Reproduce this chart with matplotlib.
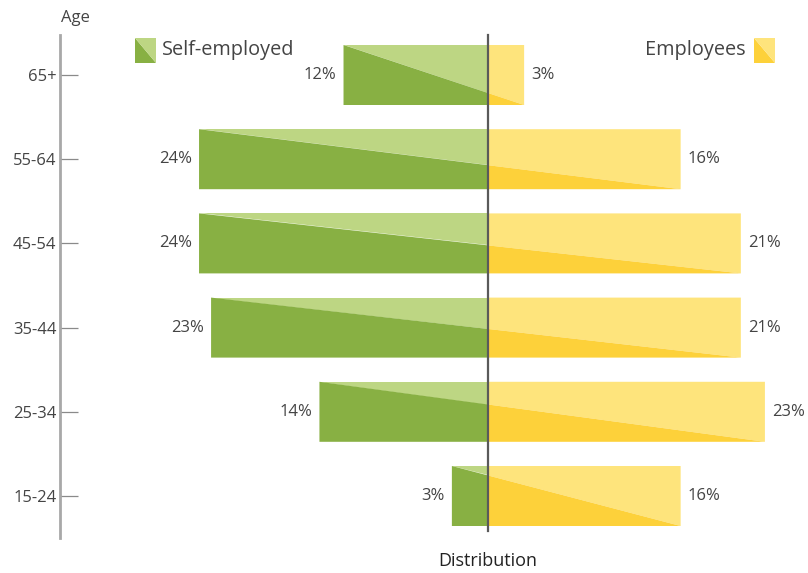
import matplotlib
matplotlib.use("Agg")
import matplotlib.pyplot as plt
from matplotlib.patches import Polygon

# ---- data ----
age_groups = ["65+", "55-64", "45-54", "35-44", "25-34", "15-24"]
self_employed = [12, 24, 24, 23, 14, 3]
employees = [3, 16, 21, 21, 23, 16]

DARK_G, LIGHT_G = "#88B043", "#BDD683"
DARK_Y, LIGHT_Y = "#FDD13A", "#FEE47C"
TXT = "#444444"

plt.rcParams['font.family'] = ['Open Sans', 'DejaVu Sans']

W, H = 808, 573
fig = plt.figure(figsize=(W / 100, H / 100), dpi=100)
ax = fig.add_axes([0, 0, 1, 1])

# pixel geometry of the reference
cx, ppu = 488.0, 12.04          # center pixel, pixels per percent
y0, dy = 75.0, 84.2             # first row center, row step
xlim = (-cx / ppu, (W - cx) / ppu)
ylim = ((H - y0) / dy, -y0 / dy)
ax.set_xlim(*xlim)
ax.set_ylim(*ylim)

def px(x):
    return (x - cx) / ppu

def py(y):
    return (y - y0) / dy

h = 60 / dy
for i, (s, e) in enumerate(zip(self_employed, employees)):
    top, bot = i - h / 2, i + h / 2
    yc = top + (bot - top) * s / (s + e)
    ax.add_patch(Polygon([(-s, top), (0, top), (0, yc)], closed=True, fc=LIGHT_G, ec='none'))
    ax.add_patch(Polygon([(-s, top), (0, yc), (0, bot), (-s, bot)], closed=True, fc=DARK_G, ec='none'))
    ax.add_patch(Polygon([(0, top), (e, top), (e, bot), (0, yc)], closed=True, fc=LIGHT_Y, ec='none'))
    ax.add_patch(Polygon([(0, yc), (e, bot), (0, bot)], closed=True, fc=DARK_Y, ec='none'))
    off = 7 / ppu
    ax.text(-s - off, i, f"{s}%", ha='right', va='center', fontsize=12, color=TXT)
    ax.text(e + off, i, f"{e}%", ha='left', va='center', fontsize=12, color=TXT)

# center line
ax.plot([0, 0], [py(35), py(531)], color="#5a5a5a", lw=1.6, zorder=5)

# left axis
for sp in ['top', 'right', 'bottom']:
    ax.spines[sp].set_visible(False)
ax.spines['left'].set_position(('data', px(60)))
ax.spines['left'].set_bounds(py(35), py(538))
ax.spines['left'].set_color("#a8a8a8")
ax.spines['left'].set_linewidth(2)
ax.set_yticks(range(len(age_groups)))
ax.set_yticklabels(age_groups, fontsize=12, color=TXT)
ax.tick_params(axis='y', direction='in', length=13, width=0.9, color="#8a8a8a", pad=2.5)
ax.set_xticks([])

ax.text(px(75), py(18), "Age", ha='center', va='center', fontsize=12, color=TXT)
ax.text(0, py(561), "Distribution", ha='center', va='center', fontsize=13, color="#222222")

# legend
def icon(x1, x2, y1, y2, dark, light):
    ax.add_patch(Polygon([(px(x1), py(y1)), (px(x1), py(y2)), (px(x2), py(y2))], closed=True, fc=dark, ec='none'))
    ax.add_patch(Polygon([(px(x1), py(y1)), (px(x2), py(y1)), (px(x2), py(y2))], closed=True, fc=light, ec='none'))

icon(135, 156, 38, 63, DARK_G, LIGHT_G)
ax.text(px(162), py(50), "Self-employed", ha='left', va='center', fontsize=14.3, color=TXT)
icon(754, 775, 38, 63, DARK_Y, LIGHT_Y)
ax.text(px(746), py(50), "Employees", ha='right', va='center', fontsize=14.3, color=TXT)

fig.savefig("out.png", dpi=100)
